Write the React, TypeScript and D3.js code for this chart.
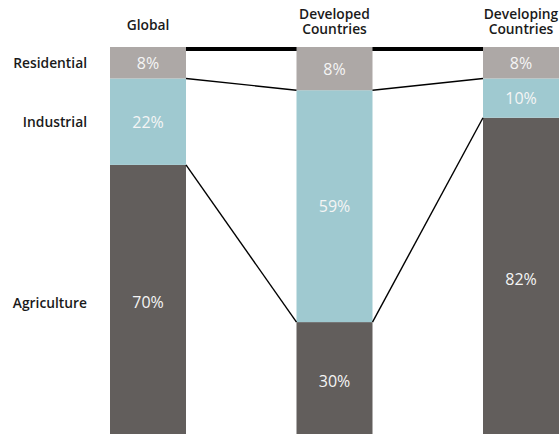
import React from "react";
import * as d3 from "d3";

const categories = ["Global", "Developed Countries", "Developing Countries"];
const categoryLines = [["Global"], ["Developed", "Countries"], ["Developing", "Countries"]];
const sectors = ["Agriculture", "Industrial", "Residential"];
const agriculture = [70, 30, 82];
const industrial = [22, 59, 10];
const residential = [8, 8, 8];

const colors: Record<string, string> = {
  Agriculture: "#625e5c",
  Industrial: "#9fc9d0",
  Residential: "#ada8a6",
};

const W = 559;
const H = 434;

export default function App() {
  const x = d3
    .scaleBand<string>()
    .domain(categories)
    .range([110, 559])
    .paddingInner(110.5 / 186.5)
    .paddingOuter(0);
  const y = d3.scaleLinear().domain([0, 100]).range([440, 47]);
  const bw = x.bandwidth();

  // stacked segments; residential fills to the top
  const segs = categories.map((c, i) => {
    const a0 = 0, a1 = agriculture[i];
    const i0 = a1, i1 = a1 + industrial[i];
    const r0 = i1, r1 = 100;
    return [
      { sector: "Agriculture", c, v: agriculture[i], y0: a0, y1: a1 },
      { sector: "Industrial", c, v: industrial[i], y0: i0, y1: i1 },
      { sector: "Residential", c, v: residential[i], y0: r0, y1: r1 },
    ];
  });

  const rowLabelY: Record<string, number> = {
    Residential: (y(segs[0][2].y0) + y(segs[0][2].y1)) / 2,
    Industrial: (y(segs[0][1].y0) + y(segs[0][1].y1)) / 2,
    Agriculture: (y(segs[0][0].y0) + y(segs[0][0].y1)) / 2,
  };

  const font = "'Open Sans', 'Noto Sans', sans-serif";

  const connectors: { x1: number; y1: number; x2: number; y2: number }[] = [];
  for (let i = 0; i < categories.length - 1; i++) {
    const xa = (x(categories[i]) as number) + bw;
    const xb = x(categories[i + 1]) as number;
    connectors.push({ x1: xa, y1: y(segs[i][2].y0), x2: xb, y2: y(segs[i + 1][2].y0) });
    connectors.push({ x1: xa, y1: y(segs[i][1].y0), x2: xb, y2: y(segs[i + 1][1].y0) });
  }

  return (
    <svg
      width={W}
      height={H}
      style={{ position: "absolute", left: 0, top: 0, display: "block" }}
      fontFamily={font}
    >
      <rect x={0} y={0} width={W} height={H} fill="#fff" />
      {/* top rule */}
      <rect x={(x(categories[0]) as number) + bw} y={y(100)} width={W} height={4} fill="#000" />
      {segs.flat().map((s, k) => (
        <rect
          key={k}
          x={x(s.c) as number}
          y={y(s.y1)}
          width={bw}
          height={y(s.y0) - y(s.y1)}
          fill={colors[s.sector]}
        />
      ))}
      {connectors.map((l, k) => (
        <line key={k} x1={l.x1} y1={l.y1} x2={l.x2} y2={l.y2} stroke="#000" strokeWidth={1.4} />
      ))}
      {segs.flat().map((s, k) => (
        <text
          key={"t" + k}
          x={(x(s.c) as number) + bw / 2}
          y={(y(s.y0) + y(s.y1)) / 2}
          textAnchor="middle"
          dominantBaseline="central"
          fill="#f5f5f5"
          fontSize={16}
        >
          {s.v}%
        </text>
      ))}
      {categories.map((c, i) => {
        const lines = categoryLines[i];
        const cx = (x(c) as number) + bw / 2;
        const baseY = lines.length === 1 ? 30 : 19;
        return lines.map((ln, j) => (
          <text
            key={c + j}
            x={cx}
            y={baseY + j * 15}
            textAnchor="middle"
            fontSize={13.8}
            fontWeight={600}
            fill="#1a1a1a"
          >
            {ln}
          </text>
        ));
      })}
      {sectors.map((s) => (
        <text
          key={s}
          x={87}
          y={rowLabelY[s]}
          textAnchor="end"
          dominantBaseline="central"
          fontSize={13.8}
          fontWeight={600}
          fill="#1a1a1a"
        >
          {s}
        </text>
      ))}
    </svg>
  );
}
